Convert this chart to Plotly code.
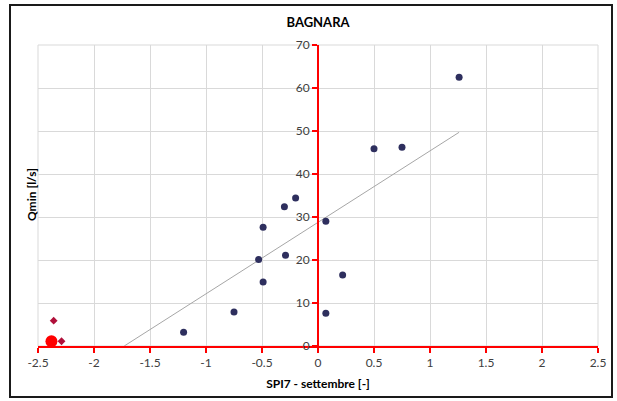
import plotly.graph_objects as go

# Navy data points (SPI7 settembre vs Qmin)
spi_x = [-1.20, -0.75, -0.53, -0.49, -0.49, -0.30, -0.20, -0.29, 0.07, 0.22, 0.07, 0.50, 0.75, 1.26]
qmin_y = [3.2, 7.9, 20.1, 27.6, 14.9, 32.4, 34.4, 21.1, 29.0, 16.5, 7.6, 45.9, 46.2, 62.5]

# Red highlighted points
red_small_x = [-2.36, -2.29]
red_small_y = [5.9, 1.1]
red_big_x = [-2.38]
red_big_y = [1.1]

# Linear trend line endpoints
trend_x = [-1.73, 1.26]
trend_y = [0.0, 49.7]

x_ticks = [-2.5, -2, -1.5, -1, -0.5, 0, 0.5, 1, 1.5, 2, 2.5]
x_ticklabels = ["-2.5", "-2", "-1.5", "-1", "-0.5", "0", "0.5", "1", "1.5", "2", "2.5"]
y_ticks = [0, 10, 20, 30, 40, 50, 60, 70]

font_family = "Lato, Open Sans, sans-serif"

fig = go.Figure()
fig.add_trace(go.Scatter(x=trend_x, y=trend_y, mode="lines",
                         line=dict(color="#a6a6a6", width=1), hoverinfo="skip", showlegend=False))
fig.add_trace(go.Scatter(x=spi_x, y=qmin_y, mode="markers",
                         marker=dict(color="#2e2f5e", size=7, line=dict(width=0)), showlegend=False))
fig.add_trace(go.Scatter(x=red_big_x, y=red_big_y, mode="markers",
                         marker=dict(color="#ff0000", size=12, line=dict(width=0)), showlegend=False, cliponaxis=False))
fig.add_trace(go.Scatter(x=red_small_x, y=red_small_y, mode="markers",
                         marker=dict(color="#b0103a", size=6, symbol="diamond", line=dict(width=0)), showlegend=False))

fig.update_layout(
    width=617, height=401,
    margin=dict(l=38, r=19, t=45, b=55),
    paper_bgcolor="white", plot_bgcolor="white",
    font=dict(family=font_family, color="#404040", size=12),
    title=dict(text="<b>BAGNARA</b>", x=0.5, xref="paper", xanchor="center",
               y=1 - 22 / 401, yanchor="middle",
               font=dict(family=font_family, size=13, color="#000000")),
    xaxis=dict(range=[-2.5, 2.5], tickvals=x_ticks, ticktext=x_ticklabels,
               showgrid=True, gridcolor="#d9d9d9", gridwidth=1,
               zeroline=False, showline=True, linecolor="#ff0000", linewidth=2,
               ticks="outside", tickcolor="#ff0000", ticklen=5, tickwidth=1.5,
               tickfont=dict(size=12, color="#404040"),
               title=dict(text="<b>SPI7 - settembre [-]</b>", standoff=10,
                          font=dict(size=12, color="#000000"))),
    yaxis=dict(range=[0, 70], tickvals=y_ticks,
               showgrid=True, gridcolor="#d9d9d9", gridwidth=1,
               zeroline=False, showline=True, linecolor="#ff0000", linewidth=2,
               ticks="outside", tickcolor="#ff0000", ticklen=5, tickwidth=1.5,
               anchor="free", position=0.5,
               tickfont=dict(size=12, color="#404040")),
)

# y-axis title placed at the left side of the chart
fig.add_annotation(text="<b>Qmin [l/s]</b>", xref="paper", yref="paper",
                   x=(31 - 38) / 560, y=(346 - 195) / 301, textangle=-90,
                   xanchor="center", yanchor="middle",
                   showarrow=False, font=dict(family=font_family, size=12, color="#000000"))

# right and top borders of plot area (gridline look)
fig.add_shape(type="rect", xref="paper", yref="paper", x0=0, x1=1, y0=0, y1=1,
              line=dict(color="#d9d9d9", width=1), layer="below")

# outer chart border
fig.add_shape(type="rect", xref="paper", yref="paper",
              x0=(10 - 38) / 560, x1=(612 - 38) / 560,
              y0=(346 - 397) / 301, y1=(346 - 5) / 301,
              line=dict(color="#1a1a1a", width=2))

fig.write_html("out.html")
